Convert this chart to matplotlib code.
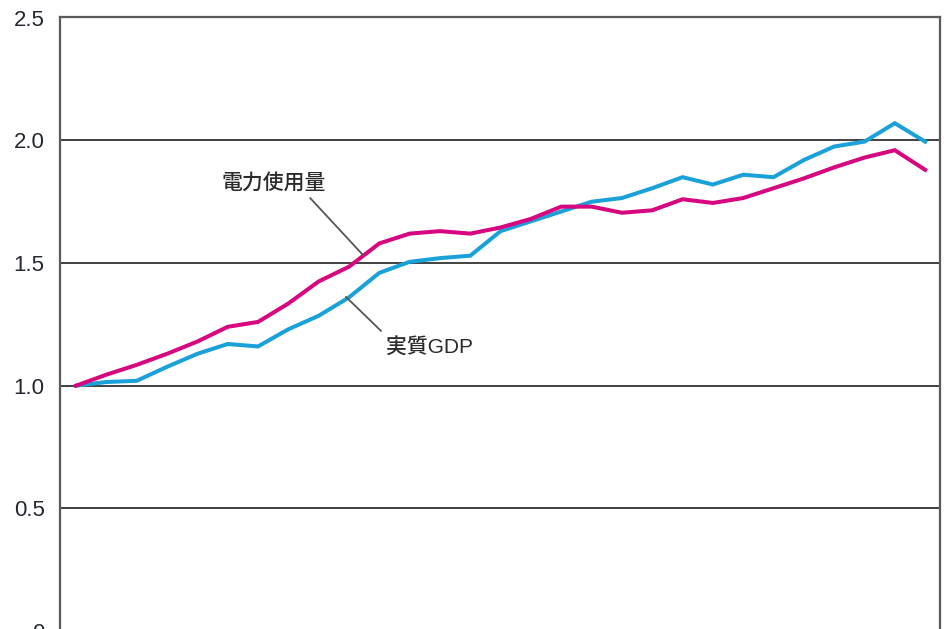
import matplotlib
matplotlib.use('Agg')
import matplotlib.pyplot as plt

# 1本目の点を1.0とした指数 (29時点)
years = list(range(29))
gdp = [1.00, 1.015, 1.02, 1.077, 1.13, 1.17, 1.16, 1.23, 1.285, 1.36,
       1.46, 1.505, 1.52, 1.53, 1.63, 1.67, 1.71, 1.75, 1.765, 1.805,
       1.85, 1.82, 1.86, 1.85, 1.92, 1.975, 1.995, 2.07, 1.995]
power = [1.00, 1.045, 1.085, 1.13, 1.18, 1.24, 1.26, 1.335, 1.425, 1.485,
         1.58, 1.62, 1.63, 1.62, 1.645, 1.68, 1.73, 1.73, 1.705, 1.715,
         1.76, 1.745, 1.765, 1.805, 1.845, 1.89, 1.93, 1.96, 1.88]
yticks = [0, 0.5, 1.0, 1.5, 2.0, 2.5]
ytick_labels = ['0', '0.5', '1.0', '1.5', '2.0', '2.5']

blue = '#1ba1d9'
magenta = '#d6077f'
# 英数字はLiberation Sans、漢字はNoto Sans CJKで描く
label_font = ['Liberation Sans', 'Noto Sans CJK JP', 'DejaVu Sans']

fig = plt.figure(figsize=(9.44, 6.29), dpi=100)
ax = fig.add_axes([60 / 944, -2 / 629, 880 / 944, 614 / 629])

ax.plot(years, gdp, color=blue, linewidth=2.9, solid_joinstyle='miter', zorder=3)
ax.plot(years, power, color=magenta, linewidth=2.9, solid_joinstyle='miter', zorder=3)

ax.set_xlim(-0.53, 28.49)
ax.set_ylim(0, 2.503)
ax.set_xticks([])
ax.set_yticks(yticks)
ax.set_yticklabels(ytick_labels, fontfamily='Liberation Sans', fontsize=16, color='#23272f')
ax.tick_params(axis='y', length=0, pad=11)

for v in [0.5, 1.0, 1.5, 2.0]:
    ax.axhline(v, color='#333333', linewidth=1.3, zorder=1)

for side in ax.spines.values():
    side.set_color('#5a5a5a')
    side.set_linewidth(1.6)

# 系列名
ax.text(6.53, 1.826, '電力使用量', ha='center', va='center', fontsize=15,
        family=label_font, fontweight='medium', color='#2a2a2a')
ax.text(11.67, 1.154, '実質GDP', ha='center', va='center', fontsize=15,
        family=label_font, fontweight='medium', color='#2a2a2a')

# 引き出し線
leader = dict(arrowstyle='-', color='#555555', lw=1.3, shrinkA=0, shrinkB=0)
ax.annotate('', xy=(9.46, 1.533), xytext=(7.72, 1.765), arrowprops=leader)
ax.annotate('', xy=(10.06, 1.223), xytext=(8.90, 1.362), arrowprops=leader)

fig.savefig('out.png', dpi=100)
